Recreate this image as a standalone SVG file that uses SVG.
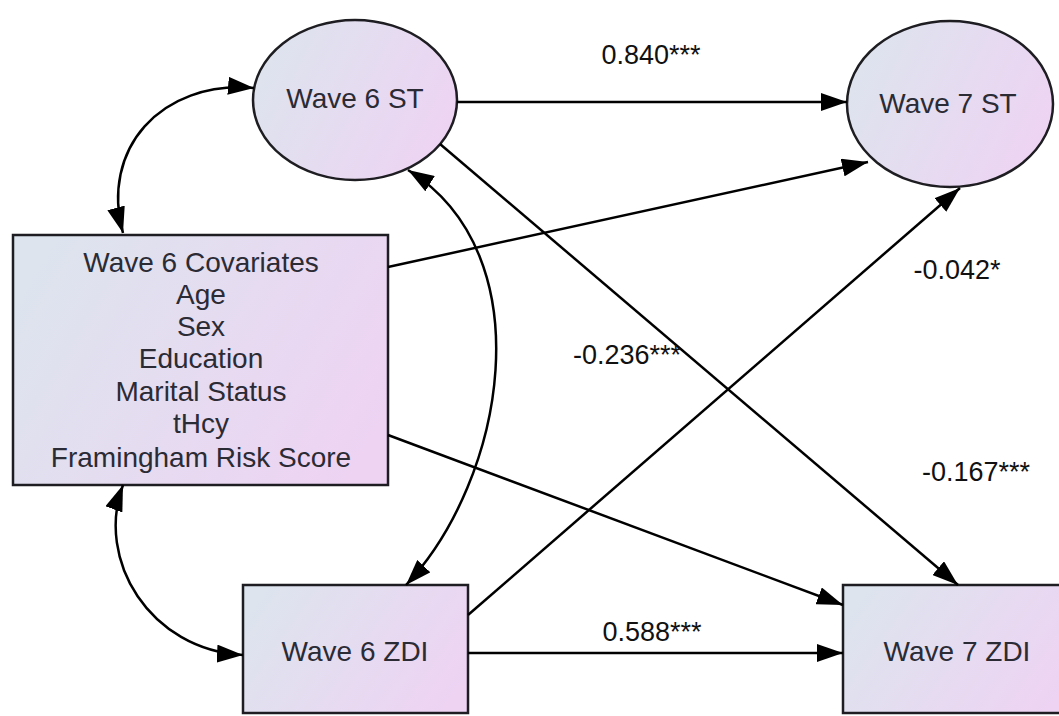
<svg xmlns="http://www.w3.org/2000/svg" width="1059" height="716" viewBox="0 0 1059 716">
  <defs>
    <linearGradient id="fillGrad" x1="0" y1="0.3" x2="1" y2="0.7">
      <stop offset="0" stop-color="#dde4ee"/>
      <stop offset="1" stop-color="#eed3f3"/>
    </linearGradient>
    <marker id="arrow" viewBox="0 0 26 18" refX="26" refY="9" markerWidth="26" markerHeight="18" markerUnits="userSpaceOnUse" orient="auto-start-reverse">
      <path d="M0,0 L26,9 L0,18 Z" fill="#000"/>
    </marker>
    <style>
      .node { fill: url(#fillGrad); stroke: #1e1e22; stroke-width: 2.5; }
      .label { font-family: "Liberation Sans", Arial, sans-serif; font-size: 28px; fill: #2b2b35; text-anchor: middle; }
      .coef { font-family: "Liberation Sans", Arial, sans-serif; font-size: 27px; fill: #111; text-anchor: middle; }
      .edge { fill: none; stroke: #000; stroke-width: 2.5; }
      .one { marker-end: url(#arrow); }
      .two { marker-start: url(#arrow); marker-end: url(#arrow); }
    </style>
  </defs>
  <rect width="1059" height="716" fill="#fff"/>

  <g id="wave6st">
    <ellipse class="node" cx="355" cy="100" rx="102" ry="80"/>
    <text class="label" x="355" y="108">Wave 6 ST</text>
  </g>
  <g id="wave7st">
    <ellipse class="node" cx="950" cy="104" rx="103" ry="83"/>
    <text class="label" x="948" y="113">Wave 7 ST</text>
  </g>
  <g id="covariates">
    <rect class="node" x="13" y="235" width="375" height="250"/>
    <text class="label" x="201" y="272">Wave 6 Covariates</text>
    <text class="label" x="201" y="304">Age</text>
    <text class="label" x="201" y="336">Sex</text>
    <text class="label" x="201" y="368">Education</text>
    <text class="label" x="201" y="401">Marital Status</text>
    <text class="label" x="201" y="433">tHcy</text>
    <text class="label" x="201" y="467">Framingham Risk Score</text>
  </g>
  <g id="wave6zdi">
    <rect class="node" x="243" y="585" width="225" height="128"/>
    <text class="label" x="355" y="661">Wave 6 ZDI</text>
  </g>
  <g id="wave7zdi">
    <rect class="node" x="843" y="585" width="230" height="128"/>
    <text class="label" x="957" y="661">Wave 7 ZDI</text>
  </g>

  <g id="connectors">
    <line class="edge one" x1="457" y1="102" x2="847" y2="102"/>
    <line class="edge one" x1="388" y1="267" x2="868" y2="162"/>
    <line class="edge one" x1="440" y1="144" x2="958" y2="585"/>
    <line class="edge one" x1="468" y1="615" x2="960" y2="188"/>
    <line class="edge one" x1="388" y1="435" x2="843" y2="605"/>
    <line class="edge one" x1="468" y1="653" x2="843" y2="653"/>
    <path class="edge two" d="M 408 170 C 545 255, 505 480, 406 585"/>
    <path class="edge two" d="M 254 88 C 160 80, 100 150, 123 233"/>
    <path class="edge two" d="M 123 485 C 95 560, 150 650, 243 655"/>
  </g>

  <g id="coefficients">
    <text class="coef" x="651" y="64">0.840***</text>
    <text class="coef" x="957" y="279">-0.042*</text>
    <text class="coef" x="627" y="364">-0.236***</text>
    <text class="coef" x="976" y="481">-0.167***</text>
    <text class="coef" x="652" y="641">0.588***</text>
  </g>
</svg>
